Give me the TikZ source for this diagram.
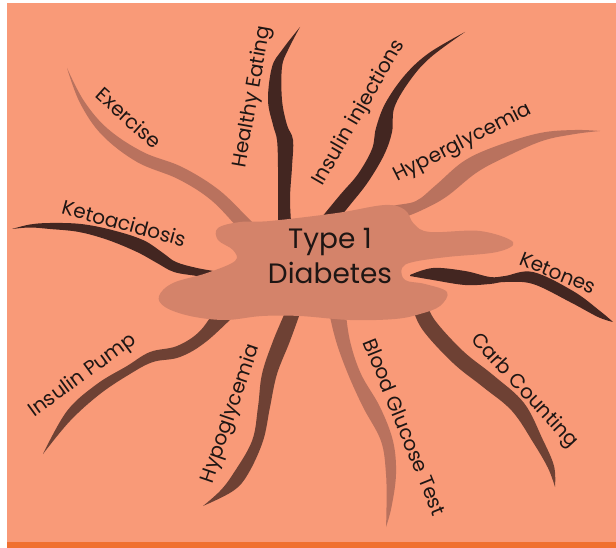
\documentclass[tikz,border=0pt]{standalone}
\usepackage{fontspec}
\setmainfont{Poppins}
\definecolor{salmon}{HTML}{F99A78}
\definecolor{blobfill}{HTML}{D4836A}
\definecolor{lightlimb}{HTML}{B9725E}
\definecolor{midlimb}{HTML}{6E4134}
\definecolor{darklimb}{HTML}{432621}
\definecolor{barorange}{HTML}{F07030}
\definecolor{ink}{HTML}{1E1614}

\begin{document}
\begin{tikzpicture}[x=1pt,y=-1pt,
  leaf/.style={font=\fontsize{20}{22}\selectfont, text=ink, inner sep=0pt},
  limbline/.style={smooth,tension=0.6}]
\useasboundingbox (0,0) rectangle (616,548);

% Draw background
\fill[white] (0,0) rectangle (616,548);
\fill[salmon] (7,3) rectangle (616,542);
\fill[barorange] (7,542) rectangle (616,548);

% Draw branches (behind the blob)
% Exercise
\fill[lightlimb] plot[limbline] coordinates {(270,240) (250,220) (219,190) (182,167) (143,152) (108,129) (84,101) (67,68)}
  -- plot[limbline] coordinates {(67,68) (80,103) (102,135) (137,162) (178,179) (211,200) (240,230) (260,250)} -- cycle;
% Healthy Eating
\fill[darklimb] plot[limbline] coordinates {(278,235) (278,200) (278,167) (277,140) (273,125) (268,100) (272,67) (282,50) (300,27)}
  -- plot[limbline] coordinates {(300,27) (288,50) (282,67) (282,100) (287,125) (293,140) (292,167) (290,200) (292,235)} -- cycle;
% Insulin injections
\fill[darklimb] plot[limbline] coordinates {(317,223) (340,195) (358,174) (372,149) (376,128) (385.5,103) (405,75) (429,53) (465,32)}
  -- plot[limbline] coordinates {(465,32) (431,57) (411,79) (394.5,107) (392,132) (384,155) (368,182) (350,205) (327,233)} -- cycle;
% Hyperglycemia
\fill[lightlimb] plot[limbline] coordinates {(370,215) (393,206) (416,201) (436,185) (464,161) (496.5,146) (540,133) (575,130) (600,131)}
  -- plot[limbline] coordinates {(600,131) (575,134) (542,141) (503.5,158) (476,173) (446,197) (420,211) (397,220) (374,229)} -- cycle;
% Ketoacidosis
\fill[darklimb] plot[limbline] coordinates {(220,272) (197,268) (176,262) (163,253) (143,240) (112,230) (81,224) (50,223) (30,224.5) (12,229)}
  -- plot[limbline] coordinates {(12,229) (30,227.5) (50,229) (79,232) (108,240) (137,252) (157,263) (174,272) (197,276) (220,280)} -- cycle;
% Ketones
\fill[darklimb] plot[limbline] coordinates {(410,275) (433,268) (465,271) (490,277) (505,276) (533,272) (573,291) (600,311) (613,322)}
  -- plot[limbline] coordinates {(613,322) (598,317) (570,302) (533,284) (505,282) (490,284) (465,285) (433,280) (410,276)} -- cycle;
% Carb Counting
\fill[midlimb] plot[limbline] coordinates {(425,297) (434,319) (463,351) (493,375) (524,403) (542.5,439) (554,466) (555,487)}
  -- plot[limbline] coordinates {(555,487) (548,468) (533.5,443) (512,411) (483,387) (453,363) (422,329) (411,303)} -- cycle;
% Blood Glucose Test
\fill[lightlimb] plot[limbline] coordinates {(327,295) (328,307) (336,341) (348,374) (363,407) (381,441) (386,474) (386.5,507) (386,527)}
  -- plot[limbline] coordinates {(386,527) (391.5,507) (396,474) (393,441) (380,407) (361,374) (350,341) (345,307) (343,295)} -- cycle;
% Hypoglycemia
\fill[midlimb] plot[limbline] coordinates {(288,295) (287,307) (273,341) (262,374) (258,407) (252,441) (233,474) (220,491) (203,506)}
  -- plot[limbline] coordinates {(203,506) (233,491) (248,474) (263,441) (270,407) (277,374) (290,341) (302,307) (304,295)} -- cycle;
% Insulin Pump
\fill[midlimb] plot[limbline] coordinates {(218,305) (200,331) (177,346) (150,352) (127,366) (97,384) (67,411) (43,454)}
  -- plot[limbline] coordinates {(43,454) (70,421) (100,394) (130,374) (153,362) (180,357) (207,341) (242,308)} -- cycle;

% Draw central blob
\fill[blobfill] plot[smooth cycle, tension=0.6] coordinates {(218,228) (240,222) (270,221) (337,213) (385,205) (405,210)
  (414,224) (430,232) (480,231) (513,242) (497,252) (447,257) (413,262) (402,268) (405,280) (425,284) (447,292)
  (440,306) (420,314) (395,319) (350,320) (300,316) (262,316) (225,320) (190,316) (165,307) (159,296) (173,283)
  (207,273) (235,261) (233,250) (218,240)};

% Center label
\node[font=\fontsize{28}{35}\selectfont, text=ink, align=center, inner sep=0pt] (hub) at (330,256) {Type 1\\Diabetes};

% Branch labels
\node[leaf, rotate=-42] (exercise) at (129,118) {Exercise};
\node[leaf, rotate=80] (eating) at (253,97) {Healthy Eating};
\node[leaf, rotate=60] (injections) at (359,113) {Insulin injections};
\node[leaf, rotate=27] (hyper) at (463,143) {Hyperglycemia};
\node[leaf, rotate=-15] (keto) at (124,223) {Ketoacidosis};
\node[leaf, rotate=-22] (ketones) at (558,273) {Ketones};
\node[leaf, rotate=-47] (carbs) at (524,391) {Carb Counting};
\node[leaf, rotate=-68] (glucose) at (405,427) {Blood Glucose Test};
\node[leaf, rotate=71] (hypo) at (231,414) {Hypoglycemia};
\node[leaf, rotate=36] (pump) at (83,376) {Insulin Pump};
\end{tikzpicture}
\end{document}
